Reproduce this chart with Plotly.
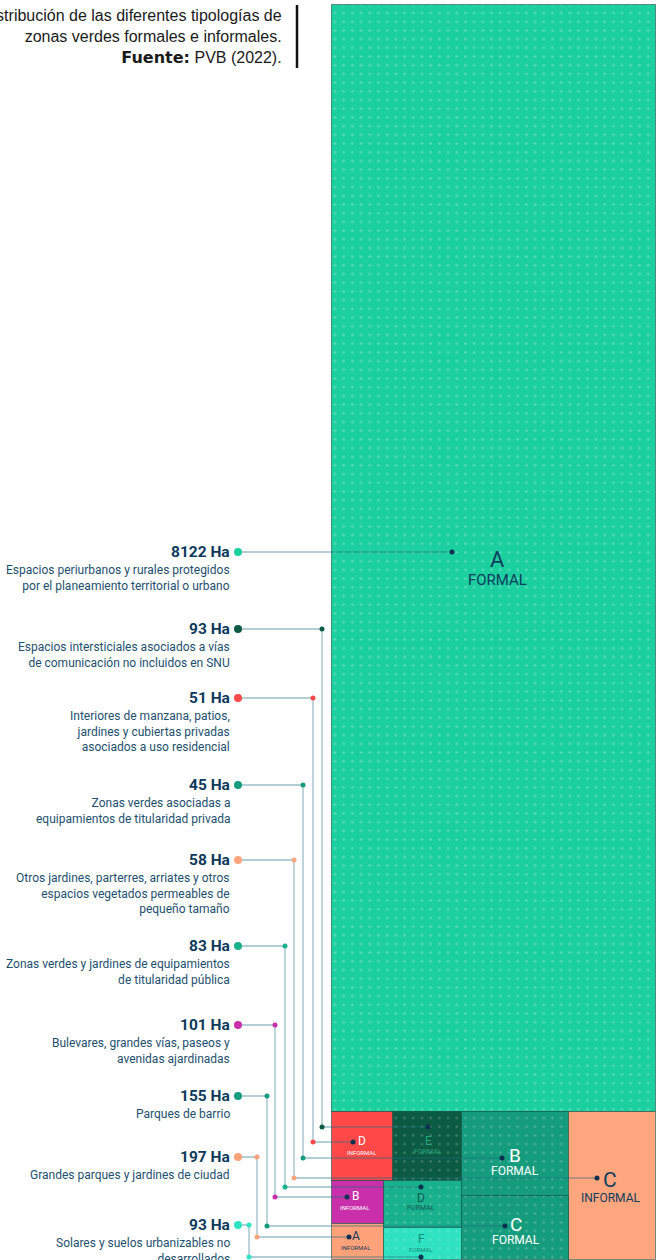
import plotly.graph_objects as go

# ---------------- data ----------------
values = [8122, 93, 51, 45, 58, 83, 101, 155, 197, 93]
descriptions = [
    "Espacios periurbanos y rurales protegidos<br>por el planeamiento territorial o urbano",
    "Espacios intersticiales asociados a vías<br>de comunicación no incluidos en SNU",
    "Interiores de manzana, patios,<br>jardines y cubiertas privadas<br>asociados a uso residencial",
    "Zonas verdes asociadas a<br>equipamientos de titularidad privada",
    "Otros jardines, parterres, arriates y otros<br>espacios vegetados permeables de<br>pequeño tamaño",
    "Zonas verdes y jardines de equipamientos<br>de titularidad pública",
    "Bulevares, grandes vías, paseos y<br>avenidas ajardinadas",
    "Parques de barrio",
    "Grandes parques y jardines de ciudad",
    "Solares y suelos urbanizables no<br>desarrollados",
]
letters = ["A", "E", "D", "B", "C", "D", "B", "C", "A", "F"]
kinds = ["FORMAL", "FORMAL", "INFORMAL", "FORMAL", "INFORMAL",
         "FORMAL", "INFORMAL", "FORMAL", "INFORMAL", "FORMAL"]

title_lines = ["Distribución de las diferentes tipologías de",
               "zonas verdes formales e informales."]
source_label = "Fuente:"
source_text = " PVB (2022)."

# ---------------- layout / style (not data) ----------------
colors = ["#1ccf9f", "#0b5a41", "#ff4848", "#149c7d", "#ffa67e",
          "#19b08c", "#c92faa", "#149c7d", "#ffa27a", "#2fe3c2"]
dotted = [True, True, False, True, False, True, False, True, False, True]
dot_alpha = [0.55, 0.45, 0, 0.45, 0, 0.45, 0, 0.45, 0, 0.3]
# tile rectangles x0, x1, y0, y1 (axis units = px)
tiles = [
    (332, 656, 5, 1112),
    (393, 462, 1112, 1181),
    (332, 393, 1112, 1181),
    (462, 569, 1112, 1196),
    (569, 656, 1112, 1260),
    (384, 462, 1181, 1228),
    (332, 384, 1181, 1224),
    (462, 569, 1196, 1260),
    (332, 384, 1224, 1260),
    (384, 462, 1228, 1260),
]
label_y = [552, 629, 698, 785, 860, 946, 1025, 1096, 1157, 1225]
conn_x = [None, 322, 313, 303, 294, 285, 275, 267, 257, 249]
target = [(452, 552), (428, 1127), (353, 1142), (502, 1158), (597, 1178),
          (421, 1187), (347, 1197), (505, 1226), (349, 1237), (421, 1257)]
# tile text: (letter x, letter y, size, kind x, kind y, size, color)
tile_text = [
    (497, 559, 22, 497, 580, 15, "#0e3d5e"),
    (428, 1141, 12, 428, 1152, 7, "#2aa581"),
    (362, 1141, 12, 362, 1152, 6, "#ffffff"),
    (515, 1155, 19, 515, 1171, 12, "#ffffff"),
    (610, 1180, 21, 611, 1198, 12, "#0e3d5e"),
    (421, 1198, 12, 421, 1208, 7, "#0e5a55"),
    (355, 1196, 12, 355, 1207, 6, "#ffffff"),
    (516, 1224, 19, 516, 1240, 12, "#ffffff"),
    (356, 1236, 12, 356, 1247, 6, "#0e3d5e"),
    (421, 1239, 12, 421, 1249, 6, "#138a78"),
]
line_col = "rgba(30,110,130,0.45)"
navy = "#0c3050"

fig = go.Figure()

# tiles as bars
for i, (x0, x1, y0, y1) in enumerate(tiles):
    pat = dict(shape=".", size=8.7, solidity=0.07,
               fgcolor=f"rgba(255,255,255,{dot_alpha[i]})") if dotted[i] else dict(shape="")
    fig.add_trace(go.Bar(
        x=[(x0 + x1) / 2], y=[y1 - y0], base=[y0], width=[x1 - x0],
        marker=dict(color=colors[i], pattern=pat,
                    line=dict(color="rgba(10,70,60,0.55)", width=1)),
        hoverinfo="skip", showlegend=False))

# connector lines
for i in range(len(values)):
    tx, ty = target[i]
    if conn_x[i] is None:
        xs, ys = [238, tx], [label_y[i], ty]
    else:
        cx = conn_x[i]
        xs, ys = [238, cx, cx, tx], [label_y[i], label_y[i], ty, ty]
    fig.add_trace(go.Scatter(x=xs, y=ys, mode="lines",
                             line=dict(color=line_col, width=1.3),
                             hoverinfo="skip", showlegend=False))

# dots
for i in range(len(values)):
    tx, ty = target[i]
    fig.add_trace(go.Scatter(x=[238], y=[label_y[i]], mode="markers",
                             marker=dict(color=colors[i], size=8),
                             hoverinfo="skip", showlegend=False))
    if conn_x[i] is not None:
        fig.add_trace(go.Scatter(x=[conn_x[i], conn_x[i]], y=[label_y[i], ty],
                                 mode="markers", marker=dict(color=colors[i], size=5),
                                 hoverinfo="skip", showlegend=False))
    fig.add_trace(go.Scatter(x=[tx], y=[ty], mode="markers",
                             marker=dict(color=navy, size=5),
                             hoverinfo="skip", showlegend=False))

ann = []
for i in range(len(values)):
    ann.append(dict(x=232, y=label_y[i], xref="x", yref="y", xanchor="right",
                    yanchor="middle", showarrow=False,
                    text=f"<b>{values[i]} Ha</b>",
                    font=dict(family="Roboto", size=15.5, color="#0d3a5a")))
    ann.append(dict(x=232, y=label_y[i] + 9, xref="x", yref="y", xanchor="right",
                    yanchor="top", showarrow=False, align="right",
                    text=descriptions[i],
                    font=dict(family="Roboto", size=12, color="#1d4f6e")))
    lx, ly, ls, kx, ky, ks, tc = tile_text[i]
    ann.append(dict(x=lx, y=ly, xref="x", yref="y", showarrow=False,
                    text=letters[i], font=dict(family="Roboto", size=ls, color=tc)))
    ann.append(dict(x=kx, y=ky, xref="x", yref="y", showarrow=False,
                    text=kinds[i], font=dict(family="Roboto", size=ks, color=tc)))

ann.append(dict(x=284, y=5, xref="x", yref="y", xanchor="right", yanchor="top",
                showarrow=False, align="right",
                text=title_lines[0] + "<br>" + title_lines[1] + "<br>"
                     + f"<span style='font-family:DejaVu Sans;font-weight:bold'>{source_label}</span>{source_text}",
                font=dict(family="Liberation Sans", size=16, color="#1a1a1a")))

fig.add_shape(type="line", x0=297, x1=297, y0=5, y1=68, xref="x", yref="y",
              line=dict(color="#111111", width=2.5))

fig.update_layout(
    width=656, height=1260, margin=dict(l=0, r=0, t=0, b=0),
    paper_bgcolor="white", plot_bgcolor="white", barmode="overlay", bargap=0,
    annotations=ann,
    xaxis=dict(range=[0, 656], visible=False, fixedrange=True),
    yaxis=dict(range=[1260, 0], visible=False, fixedrange=True),
)

fig.write_html("out.html", config={"displayModeBar": False},
               post_script="document.body.style.margin='0';"
                           "document.body.style.overflow='hidden';")
